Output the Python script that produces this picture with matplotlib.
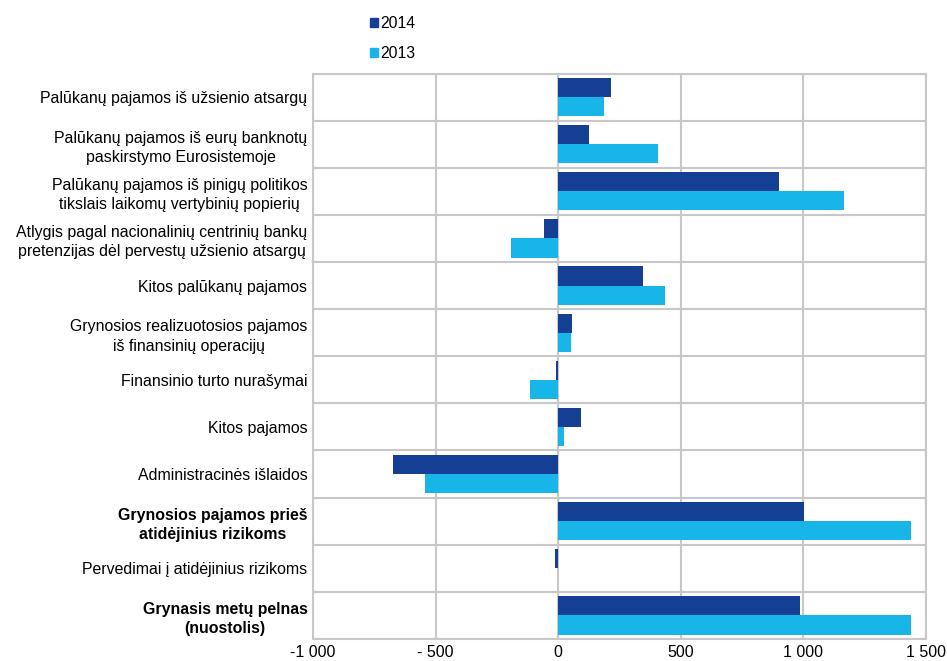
import numpy as np
import matplotlib
matplotlib.use('Agg')
import matplotlib.pyplot as plt
from matplotlib.patches import Patch

plt.rcParams['font.family'] = ['Liberation Sans', 'DejaVu Sans']

# Categories (top to bottom) and bold flags
categories = [
    'Palūkanų pajamos iš užsienio atsargų',
    'Palūkanų pajamos iš eurų banknotų\npaskirstymo Eurosistemoje',
    'Palūkanų pajamos iš pinigų politikos\ntikslais laikomų vertybinių popierių',
    'Atlygis pagal nacionalinių centrinių bankų\npretenzijas dėl pervestų užsienio atsargų',
    'Kitos palūkanų pajamos',
    'Grynosios realizuotosios pajamos\niš finansinių operacijų',
    'Finansinio turto nurašymai',
    'Kitos pajamos',
    'Administracinės išlaidos',
    'Grynosios pajamos prieš\natidėjinius rizikoms',
    'Pervedimai į atidėjinius rizikoms',
    'Grynasis metų pelnas\n(nuostolis)',
]
bold = [False] * 9 + [True, False, True]

v2014 = [216, 127, 901, -57, 347, 57, -7, 95, -674, 1003, -14, 988]
v2013 = [188, 406, 1166, -192, 437, 52, -115, 24, -542, 1440, 0, 1440]

xticks = [-1000, -500, 0, 500, 1000, 1500]
xticklabels = ['-1 000', '- 500', '0', '500', '1 000', '1 500']

c2014 = '#143f93'
c2013 = '#17b5e8'
grid_c = '#c8c8c8'

fig = plt.figure(figsize=(9.47, 6.61), dpi=100)
ax = fig.add_axes([0.3305, 0.0333, 0.6473, 0.8555])

n = len(categories)
y = np.arange(n)
h = 0.407
ax.barh(y - h / 2, v2014, height=h, color=c2014, zorder=3)
ax.barh(y + h / 2, v2013, height=h, color=c2013, zorder=3)

ax.set_xlim(-1000, 1500)
ax.set_ylim(n - 0.5, -0.5)
ax.set_xticks(xticks)
ax.set_xticklabels(xticklabels, fontsize=11.5)
ax.set_yticks(y)
ax.set_yticklabels(categories, fontsize=11.4, linespacing=1.38)
for lab, b in zip(ax.get_yticklabels(), bold):
    lab.set_ha('right')
    lab.set_multialignment('center')
    if b:
        lab.set_fontweight('bold')

ax.set_yticks(np.arange(-0.5, n, 1), minor=True)
ax.tick_params(axis='both', which='both', length=0)
ax.tick_params(axis='y', pad=4)
ax.tick_params(axis='x', pad=4)
ax.grid(True, axis='x', which='major', color=grid_c, lw=1.5, zorder=0)
ax.grid(True, axis='y', which='minor', color=grid_c, lw=1.5, zorder=0)
for s in ax.spines.values():
    s.set_color(grid_c)
    s.set_linewidth(1.5)

handles = [Patch(color=c2014, label='2014'), Patch(color=c2013, label='2013')]
fig.legend(handles=handles, loc='upper left', bbox_to_anchor=(0.374, 1.0),
           frameon=False, fontsize=11.3, handlelength=0.5, handleheight=0.5,
           handletextpad=0.15, labelspacing=0.95, borderaxespad=0.6)

fig.savefig('out.png', dpi=100)
